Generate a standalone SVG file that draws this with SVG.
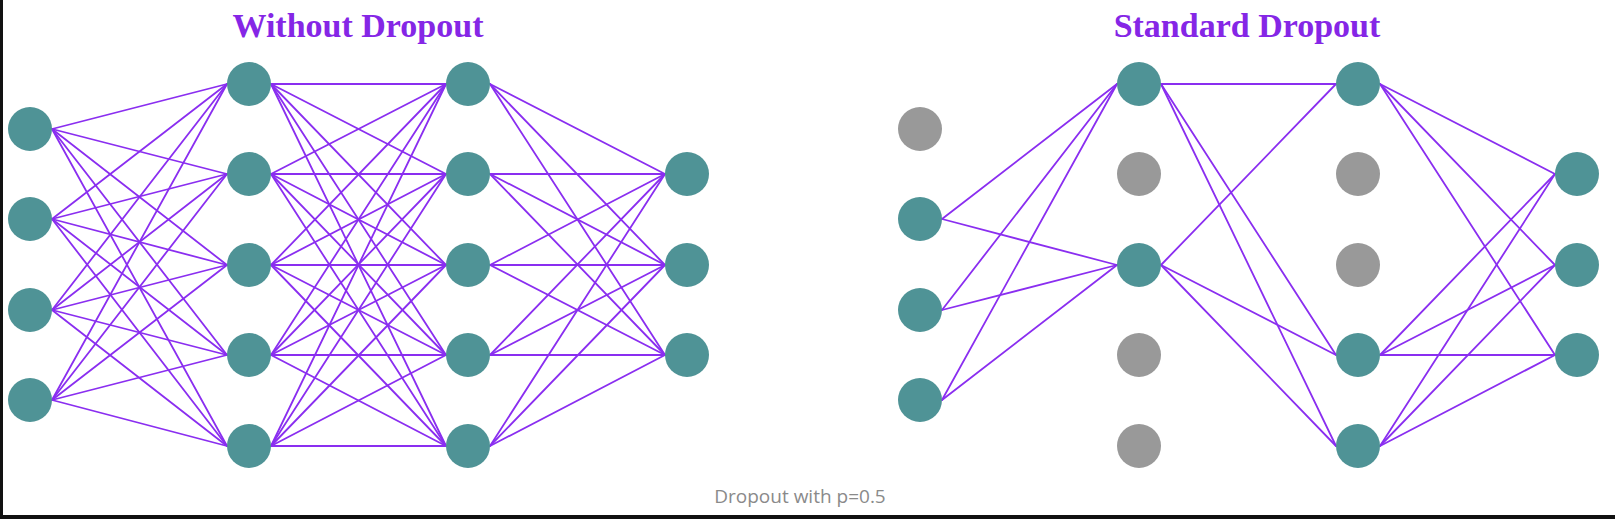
<svg xmlns="http://www.w3.org/2000/svg" width="1615" height="519" viewBox="0 0 1615 519">
<style>
.e{stroke:#8a2ef0;stroke-width:1.8;fill:none;stroke-linecap:round}
.n{fill:#4f9396}
.g{fill:#999999}
.t{font-family:"Liberation Serif",serif;font-weight:bold;font-size:34px;fill:#8526e6;text-anchor:middle}
.c{font-family:"Open Sans",sans-serif;font-size:19px;fill:#8a8a8a;text-anchor:middle}
</style>
<rect x="0" y="0" width="1615" height="519" fill="#ffffff"/>
<rect x="0" y="0" width="3" height="519" fill="#111111"/>
<rect x="0" y="515" width="1615" height="4" fill="#111111"/>
<text class="t" x="358" y="37">Without Dropout</text>
<text class="t" x="1247" y="37">Standard Dropout</text>
<text class="c" x="800" y="503">Dropout with p=0.5</text>
<g id="connectors">
<!-- left L0 -> L1 -->
<line class="e" x1="52" y1="129" x2="227" y2="84"/><line class="e" x1="52" y1="129" x2="227" y2="174"/><line class="e" x1="52" y1="129" x2="227" y2="265"/><line class="e" x1="52" y1="129" x2="227" y2="355"/><line class="e" x1="52" y1="129" x2="227" y2="446"/>
<line class="e" x1="52" y1="219" x2="227" y2="84"/><line class="e" x1="52" y1="219" x2="227" y2="174"/><line class="e" x1="52" y1="219" x2="227" y2="265"/><line class="e" x1="52" y1="219" x2="227" y2="355"/><line class="e" x1="52" y1="219" x2="227" y2="446"/>
<line class="e" x1="52" y1="310" x2="227" y2="84"/><line class="e" x1="52" y1="310" x2="227" y2="174"/><line class="e" x1="52" y1="310" x2="227" y2="265"/><line class="e" x1="52" y1="310" x2="227" y2="355"/><line class="e" x1="52" y1="310" x2="227" y2="446"/>
<line class="e" x1="52" y1="400" x2="227" y2="84"/><line class="e" x1="52" y1="400" x2="227" y2="174"/><line class="e" x1="52" y1="400" x2="227" y2="265"/><line class="e" x1="52" y1="400" x2="227" y2="355"/><line class="e" x1="52" y1="400" x2="227" y2="446"/>
<!-- left L1 -> L2 -->
<line class="e" x1="271" y1="84" x2="446" y2="84"/><line class="e" x1="271" y1="84" x2="446" y2="174"/><line class="e" x1="271" y1="84" x2="446" y2="265"/><line class="e" x1="271" y1="84" x2="446" y2="355"/><line class="e" x1="271" y1="84" x2="446" y2="446"/>
<line class="e" x1="271" y1="174" x2="446" y2="84"/><line class="e" x1="271" y1="174" x2="446" y2="174"/><line class="e" x1="271" y1="174" x2="446" y2="265"/><line class="e" x1="271" y1="174" x2="446" y2="355"/><line class="e" x1="271" y1="174" x2="446" y2="446"/>
<line class="e" x1="271" y1="265" x2="446" y2="84"/><line class="e" x1="271" y1="265" x2="446" y2="174"/><line class="e" x1="271" y1="265" x2="446" y2="265"/><line class="e" x1="271" y1="265" x2="446" y2="355"/><line class="e" x1="271" y1="265" x2="446" y2="446"/>
<line class="e" x1="271" y1="355" x2="446" y2="84"/><line class="e" x1="271" y1="355" x2="446" y2="174"/><line class="e" x1="271" y1="355" x2="446" y2="265"/><line class="e" x1="271" y1="355" x2="446" y2="355"/><line class="e" x1="271" y1="355" x2="446" y2="446"/>
<line class="e" x1="271" y1="446" x2="446" y2="84"/><line class="e" x1="271" y1="446" x2="446" y2="174"/><line class="e" x1="271" y1="446" x2="446" y2="265"/><line class="e" x1="271" y1="446" x2="446" y2="355"/><line class="e" x1="271" y1="446" x2="446" y2="446"/>
<!-- left L2 -> L3 -->
<line class="e" x1="490" y1="84" x2="665" y2="174"/><line class="e" x1="490" y1="84" x2="665" y2="265"/><line class="e" x1="490" y1="84" x2="665" y2="355"/>
<line class="e" x1="490" y1="174" x2="665" y2="174"/><line class="e" x1="490" y1="174" x2="665" y2="265"/><line class="e" x1="490" y1="174" x2="665" y2="355"/>
<line class="e" x1="490" y1="265" x2="665" y2="174"/><line class="e" x1="490" y1="265" x2="665" y2="265"/><line class="e" x1="490" y1="265" x2="665" y2="355"/>
<line class="e" x1="490" y1="355" x2="665" y2="174"/><line class="e" x1="490" y1="355" x2="665" y2="265"/><line class="e" x1="490" y1="355" x2="665" y2="355"/>
<line class="e" x1="490" y1="446" x2="665" y2="174"/><line class="e" x1="490" y1="446" x2="665" y2="265"/><line class="e" x1="490" y1="446" x2="665" y2="355"/>
<!-- right R0 -> R1 -->
<line class="e" x1="942" y1="219" x2="1117" y2="84"/><line class="e" x1="942" y1="219" x2="1117" y2="265"/>
<line class="e" x1="942" y1="310" x2="1117" y2="84"/><line class="e" x1="942" y1="310" x2="1117" y2="265"/>
<line class="e" x1="942" y1="400" x2="1117" y2="84"/><line class="e" x1="942" y1="400" x2="1117" y2="265"/>
<!-- right R1 -> R2 -->
<line class="e" x1="1161" y1="84" x2="1336" y2="84"/><line class="e" x1="1161" y1="84" x2="1336" y2="355"/><line class="e" x1="1161" y1="84" x2="1336" y2="446"/>
<line class="e" x1="1161" y1="265" x2="1336" y2="84"/><line class="e" x1="1161" y1="265" x2="1336" y2="355"/><line class="e" x1="1161" y1="265" x2="1336" y2="446"/>
<!-- right R2 -> R3 -->
<line class="e" x1="1380" y1="84" x2="1555" y2="174"/><line class="e" x1="1380" y1="84" x2="1555" y2="265"/><line class="e" x1="1380" y1="84" x2="1555" y2="355"/>
<line class="e" x1="1380" y1="355" x2="1555" y2="174"/><line class="e" x1="1380" y1="355" x2="1555" y2="265"/><line class="e" x1="1380" y1="355" x2="1555" y2="355"/>
<line class="e" x1="1380" y1="446" x2="1555" y2="174"/><line class="e" x1="1380" y1="446" x2="1555" y2="265"/><line class="e" x1="1380" y1="446" x2="1555" y2="355"/>
</g>
<g id="left-input">
<circle id="a0" class="n" cx="30" cy="129" r="22"/><circle id="a1" class="n" cx="30" cy="219" r="22"/><circle id="a2" class="n" cx="30" cy="310" r="22"/><circle id="a3" class="n" cx="30" cy="400" r="22"/>
</g>
<g id="left-hidden1">
<circle id="b0" class="n" cx="249" cy="84" r="22"/><circle id="b1" class="n" cx="249" cy="174" r="22"/><circle id="b2" class="n" cx="249" cy="265" r="22"/><circle id="b3" class="n" cx="249" cy="355" r="22"/><circle id="b4" class="n" cx="249" cy="446" r="22"/>
</g>
<g id="left-hidden2">
<circle id="c0" class="n" cx="468" cy="84" r="22"/><circle id="c1" class="n" cx="468" cy="174" r="22"/><circle id="c2" class="n" cx="468" cy="265" r="22"/><circle id="c3" class="n" cx="468" cy="355" r="22"/><circle id="c4" class="n" cx="468" cy="446" r="22"/>
</g>
<g id="left-output">
<circle id="d0" class="n" cx="687" cy="174" r="22"/><circle id="d1" class="n" cx="687" cy="265" r="22"/><circle id="d2" class="n" cx="687" cy="355" r="22"/>
</g>
<g id="right-input">
<circle id="e0" class="g" cx="920" cy="129" r="22"/><circle id="e1" class="n" cx="920" cy="219" r="22"/><circle id="e2" class="n" cx="920" cy="310" r="22"/><circle id="e3" class="n" cx="920" cy="400" r="22"/>
</g>
<g id="right-hidden1">
<circle id="f0" class="n" cx="1139" cy="84" r="22"/><circle id="f1" class="g" cx="1139" cy="174" r="22"/><circle id="f2" class="n" cx="1139" cy="265" r="22"/><circle id="f3" class="g" cx="1139" cy="355" r="22"/><circle id="f4" class="g" cx="1139" cy="446" r="22"/>
</g>
<g id="right-hidden2">
<circle id="h0" class="n" cx="1358" cy="84" r="22"/><circle id="h1" class="g" cx="1358" cy="174" r="22"/><circle id="h2" class="g" cx="1358" cy="265" r="22"/><circle id="h3" class="n" cx="1358" cy="355" r="22"/><circle id="h4" class="n" cx="1358" cy="446" r="22"/>
</g>
<g id="right-output">
<circle id="k0" class="n" cx="1577" cy="174" r="22"/><circle id="k1" class="n" cx="1577" cy="265" r="22"/><circle id="k2" class="n" cx="1577" cy="355" r="22"/>
</g>
</svg>
